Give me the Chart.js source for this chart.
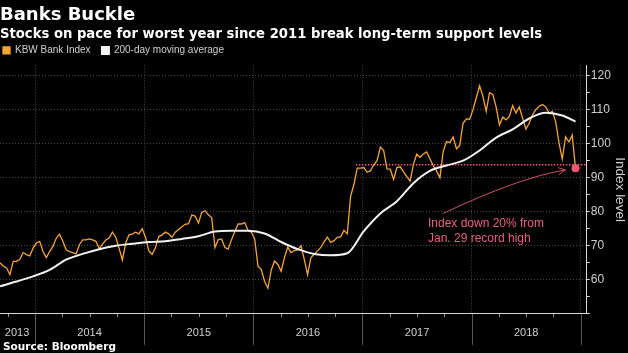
<!DOCTYPE html>
<html>
<head>
<meta charset="utf-8">
<script src="https://cdn.jsdelivr.net/npm/chart.js@4.4.1/dist/chart.umd.min.js"></script>
<style>
  html, body { margin: 0; padding: 0; background: #000; }
  #wrap { width: 628px; height: 353px; position: relative; }
</style>
</head>
<body>
<div id="wrap"><canvas id="chart"></canvas></div>
<script>
// -----------------------------
// DATA
// -----------------------------
// KBW Bank Index, one reading roughly every 11 days from Sep 2013
const START_YEAR = 2013.679;
const SAMPLES_PER_YEAR = 33;
const kbwIndex = [
  65.0, 64.0, 63.5, 61.5, 65.4, 65.4, 66.0, 68.0, 67.4, 67.0,
  69.3, 70.8, 71.3, 68.3, 66.5, 68.3, 69.8, 72.2, 73.4, 71.3,
  68.8, 68.3, 68.0, 67.6, 70.3, 71.7, 71.7, 72.0, 71.7, 71.3,
  69.2, 70.5, 71.7, 72.3, 74.0, 72.5, 69.3, 65.8, 70.8, 73.2,
  73.4, 74.0, 73.5, 75.0, 72.5, 68.5, 67.5, 69.5, 72.7, 73.2,
  74.0, 73.5, 72.5, 74.0, 74.8, 75.6, 76.3, 76.5, 79.0, 78.7,
  76.7, 79.8, 80.3, 79.1, 78.3, 69.5, 71.8, 72.0, 69.5, 69.0,
  71.8, 74.2, 76.4, 76.4, 76.8, 74.5, 74.0, 72.0, 64.0, 63.0,
  59.5, 57.5, 62.8, 65.5, 64.5, 62.5, 66.5, 69.6, 68.0, 68.6,
  68.8, 70.0, 66.0, 61.5, 66.5, 67.5, 68.5, 69.5, 71.2, 72.5,
  71.0, 71.5, 72.5, 72.6, 74.5, 73.5, 84.5, 88.0, 92.8, 92.8,
  93.0, 91.6, 92.0, 93.8, 95.0, 99.0, 98.0, 92.6, 92.5, 89.5,
  93.0, 93.2, 91.7, 90.3, 89.0, 94.0, 96.9, 96.0, 97.0, 97.6,
  95.5, 93.5, 92.0, 90.0, 97.7, 100.6, 100.3, 102.0, 98.5, 99.5,
  106.0, 107.3, 107.2, 110.0, 113.5, 117.0, 114.0, 109.5, 115.0, 114.5,
  110.8, 105.5, 107.8, 107.0, 108.0, 111.2, 109.0, 110.8, 107.5, 104.3,
  106.0, 108.5, 110.0, 111.0, 111.5, 110.8, 109.0, 109.5, 106.5, 100.3,
  95.5, 102.0, 100.5, 102.5, 92.8
];

// 200-day moving average, read at every 5th index sample
const MA_STEP = 5;
const movingAverage = [
  58.1, 59.5, 61.0, 62.9, 65.9, 67.6, 69.0, 70.0, 70.6, 71.1,
  71.3, 72.0, 72.8, 74.2, 74.4, 74.4, 73.6, 71.1, 69.0, 67.6,
  67.2, 67.8, 74.3, 79.5, 83.1, 88.4, 92.0, 93.6, 95.0, 98.0,
  101.8, 104.2, 107.4, 109.1, 108.3, 106.5
];

// 20% below the Jan. 29 record high
const SUPPORT_LEVEL = 93.8;
const SUPPORT_FROM = 2016.94;

// x axis: year boundaries and year labels
const X_MAX = 2019.055;
const yearBoundaries = [2014, 2015, 2016, 2017, 2018, 2019];
const yearLabels = ['2013', '2014', '2015', '2016', '2017', '2018'];
const yearLabelAt = [2013.835, 2014.5, 2015.5, 2016.5, 2017.5, 2018.5];

// y axis
const Y_MIN = 50;
const Y_MAX = 123;

// annotation
const noteLines = ['Index down 20% from', 'Jan. 29 record high'];
const noteAt = { x: 2017.6, y: 76.4 };
const arrowFrom = { x: 2017.74, y: 79.5 };
const arrowBend = { x: 2018.43, y: 90.0 };
const arrowTo = { x: 2018.86, y: 92.3 };

// -----------------------------
// COLOURS / FONTS
// -----------------------------
const ORANGE = '#f5a436';
const WHITE = '#f2f2f2';
const PINK = '#ef5673';
const NOTE_PINK = '#e8627e';
const GRID = '#4a4a4a';
const AXIS_TEXT = '#cfcfcf';
const FONT = "'Liberation Sans', Arial, sans-serif";
const HEAD_FONT = "'DejaVu Sans', 'Liberation Sans', sans-serif";

Chart.defaults.font.family = FONT;
Chart.defaults.color = AXIS_TEXT;

const sampleDate = i => START_YEAR + i / SAMPLES_PER_YEAR;
const lastIndex = kbwIndex.length - 1;

const kbwPoints = kbwIndex.map((v, i) => ({ x: sampleDate(i), y: v }));
const maPoints = movingAverage.map((v, i) => ({
  x: sampleDate(Math.min(i * MA_STEP, lastIndex)), y: v
}));

const isBoundary = v => yearBoundaries.some(b => Math.abs(b - v) < 1e-6);

// -----------------------------
// EXTRA DRAWING (year separators, quarter ticks, note, arrow, source)
// -----------------------------
const extrasPlugin = {
  id: 'extras',
  afterDatasetsDraw(chart) {
    const { ctx, chartArea } = chart;
    const xs = chart.scales.x;
    const ys = chart.scales.y;

    ctx.save();
    ctx.lineWidth = 1;

    // year separators running down through the label band
    ctx.strokeStyle = '#5a5a5a';
    yearBoundaries.forEach(v => {
      if (v > xs.max) return;
      const px = Math.round(xs.getPixelForValue(v)) + 0.5;
      ctx.beginPath();
      ctx.moveTo(px, chartArea.bottom);
      ctx.lineTo(px, chartArea.bottom + 31);
      ctx.stroke();
    });

    // quarter ticks on the time axis
    ctx.strokeStyle = '#9a9a9a';
    for (let yr = 2013; yr <= 2018; yr++) {
      [0.25, 0.5, 0.75].forEach(q => {
        const v = yr + q;
        if (v < xs.min || v > xs.max) return;
        const px = Math.round(xs.getPixelForValue(v)) + 0.5;
        ctx.beginPath();
        ctx.moveTo(px, chartArea.bottom);
        ctx.lineTo(px, chartArea.bottom + 3);
        ctx.stroke();
      });
    }

    // note text
    ctx.fillStyle = NOTE_PINK;
    ctx.font = '12px ' + FONT;
    ctx.textAlign = 'left';
    ctx.textBaseline = 'middle';
    const nx = xs.getPixelForValue(noteAt.x);
    const ny = ys.getPixelForValue(noteAt.y);
    noteLines.forEach((line, i) => ctx.fillText(line, nx, ny + i * 14.6));

    // curved arrow
    const p0 = { x: xs.getPixelForValue(arrowFrom.x), y: ys.getPixelForValue(arrowFrom.y) };
    const c = { x: xs.getPixelForValue(arrowBend.x), y: ys.getPixelForValue(arrowBend.y) };
    const p2 = { x: xs.getPixelForValue(arrowTo.x), y: ys.getPixelForValue(arrowTo.y) };
    ctx.strokeStyle = '#c9506a';
    ctx.beginPath();
    ctx.moveTo(p0.x, p0.y);
    ctx.quadraticCurveTo(c.x, c.y, p2.x, p2.y);
    ctx.stroke();
    const ang = Math.atan2(p2.y - c.y, p2.x - c.x);
    const head = 8;
    ctx.beginPath();
    ctx.moveTo(p2.x - head * Math.cos(ang - 0.45), p2.y - head * Math.sin(ang - 0.45));
    ctx.lineTo(p2.x, p2.y);
    ctx.lineTo(p2.x - head * Math.cos(ang + 0.45), p2.y - head * Math.sin(ang + 0.45));
    ctx.stroke();
    ctx.restore();
  },
  afterDraw(chart) {
    const { ctx } = chart;
    ctx.save();
    ctx.fillStyle = '#ffffff';
    ctx.font = 'bold 10.5px ' + HEAD_FONT;
    ctx.textAlign = 'left';
    ctx.textBaseline = 'middle';
    ctx.fillText('Source: Bloomberg', 3, 347);
    ctx.restore();
  }
};

// -----------------------------
// CHART
// -----------------------------
new Chart(document.getElementById('chart'), {
  type: 'line',
  data: {
    datasets: [
      {
        label: 'KBW Bank Index',
        data: kbwPoints,
        borderColor: ORANGE,
        backgroundColor: ORANGE,
        borderWidth: 1.3,
        pointRadius: 0,
        order: 2
      },
      {
        label: '200-day moving average',
        data: maPoints,
        borderColor: WHITE,
        backgroundColor: WHITE,
        borderWidth: 2,
        pointRadius: 0,
        cubicInterpolationMode: 'monotone',
        order: 1
      },
      {
        label: 'support',
        data: [{ x: SUPPORT_FROM, y: SUPPORT_LEVEL }, { x: X_MAX, y: SUPPORT_LEVEL }],
        borderColor: PINK,
        borderWidth: 1.5,
        borderDash: [1.5, 1.5],
        pointRadius: 0,
        order: 3
      },
      {
        label: 'latest',
        data: [{ x: sampleDate(lastIndex), y: kbwIndex[lastIndex] }],
        showLine: false,
        pointRadius: 4,
        pointBackgroundColor: PINK,
        pointBorderWidth: 0,
        order: 0
      }
    ]
  },
  options: {
    responsive: true,
    maintainAspectRatio: false,
    devicePixelRatio: 1,
    animation: false,
    layout: { autoPadding: false, padding: { left: 0, right: 0, top: 0, bottom: 0 } },
    plugins: {
      tooltip: { enabled: false },
      title: {
        display: true,
        text: 'Banks Buckle',
        align: 'start',
        color: '#ffffff',
        font: { family: HEAD_FONT, size: 18, weight: 'bold' },
        padding: { top: 5, bottom: 0 }
      },
      subtitle: {
        display: true,
        text: 'Stocks on pace for worst year since 2011 break long-term support levels',
        align: 'start',
        color: '#ffffff',
        font: { family: HEAD_FONT, size: 13.2, weight: 'bold' },
        padding: { top: 0, bottom: 0 }
      },
      legend: {
        align: 'start',
        labels: {
          color: '#d0d0d0',
          font: { size: 10 },
          boxWidth: 7,
          boxHeight: 7,
          padding: 3,
          // trailing spaces open up the gap between the two legend items
          generateLabels: chart => Chart.defaults.plugins.legend.labels.generateLabels(chart)
            .map(item => ({ ...item, text: item.text + '   ' })),
          filter: item => item.datasetIndex < 2,
          sort: (a, b) => a.datasetIndex - b.datasetIndex
        }
      }
    },
    scales: {
      x: {
        type: 'linear',
        min: START_YEAR,
        max: X_MAX,
        afterBuildTicks: scale => {
          scale.ticks = [...yearLabelAt, ...yearBoundaries]
            .sort((a, b) => a - b)
            .map(v => ({ value: v }));
        },
        afterFit: scale => {
          scale.paddingLeft = 0;
          scale.paddingRight = 0;
        },
        ticks: {
          autoSkip: false,
          maxRotation: 0,
          color: AXIS_TEXT,
          font: { size: 11 },
          padding: 13,
          callback: value => {
            const k = yearLabelAt.findIndex(p => Math.abs(p - value) < 1e-6);
            return k >= 0 ? yearLabels[k] : '';
          }
        },
        grid: {
          color: ctx => (ctx.tick && isBoundary(ctx.tick.value)) ? GRID : 'transparent',
          drawTicks: false
        },
        border: { color: '#d8d8d8', width: 1, dash: [1, 2] }
      },
      y: {
        position: 'right',
        min: Y_MIN,
        max: Y_MAX,
        ticks: {
          stepSize: 5,
          includeBounds: false,
          color: AXIS_TEXT,
          font: { size: 12 },
          padding: 1,
          callback: v => (v % 10 === 0 && v > Y_MIN) ? v : ''
        },
        grid: {
          color: ctx => (ctx.tick && ctx.tick.value % 10 === 0 && ctx.tick.value > Y_MIN) ? GRID : 'transparent',
          tickColor: '#d8d8d8',
          tickLength: 3
        },
        border: { color: '#d8d8d8', width: 1, dash: [1, 2] },
        title: {
          display: true,
          text: 'Index level',
          color: AXIS_TEXT,
          font: { size: 13.5 },
          padding: 0
        }
      }
    }
  },
  plugins: [extrasPlugin]
});
</script>
</body>
</html>
